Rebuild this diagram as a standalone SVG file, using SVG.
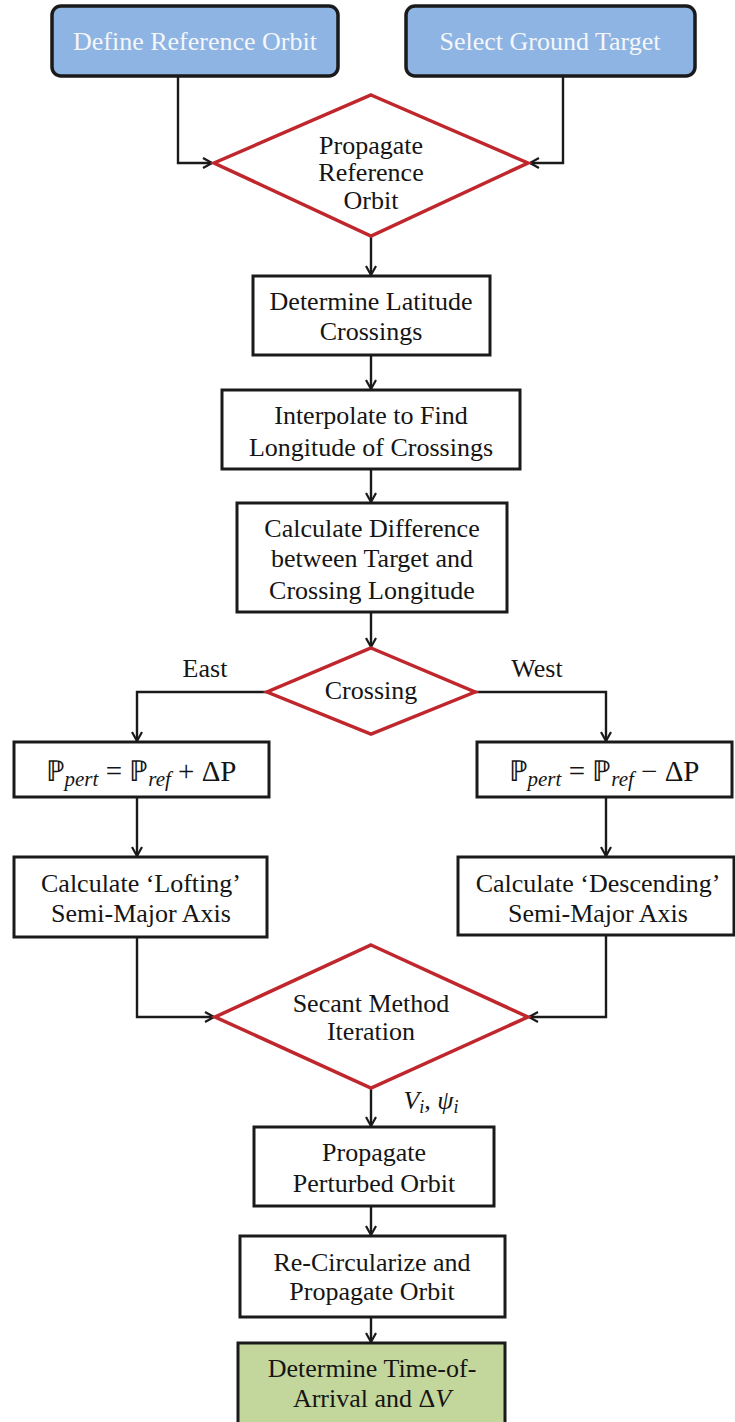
<svg xmlns="http://www.w3.org/2000/svg" width="735" height="1422" viewBox="0 0 735 1422">
  <style>
    .t { font-family: "Liberation Serif", "Times New Roman", serif; font-size: 26px; fill: #151515; text-anchor: middle; }
    .tw { fill: #f4f6fb; }
    .box { fill: #ffffff; stroke: #1a1a1a; stroke-width: 3; }
    .blue { fill: #8db4e2; stroke: #1a1a1a; stroke-width: 3.5; }
    .green { fill: #c3d69b; stroke: #1a1a1a; stroke-width: 3; }
    .dia { fill: #ffffff; stroke: #c0272d; stroke-width: 3.5; stroke-linejoin: miter; }
    .wire { fill: none; stroke: #1a1a1a; stroke-width: 2.4; marker-end: url(#head); }
    .m { font-style: italic; }
    .eq { font-size: 29px; }
  </style>
  <defs>
    <marker id="head" viewBox="0 0 12 12" refX="11" refY="6" markerWidth="12" markerHeight="12" markerUnits="userSpaceOnUse" orient="auto">
      <path d="M2,1 L11,6 L2,11" fill="none" stroke="#1a1a1a" stroke-width="2.2"/>
    </marker>
  </defs>

  <rect width="735" height="1422" fill="#ffffff"/>

  <!-- connectors -->
  <g id="connectors">
    <path class="wire" d="M178,76 V163 H212"/>
    <path class="wire" d="M563,76 V163 H530"/>
    <path class="wire" d="M371,236 V275"/>
    <path class="wire" d="M371,355 V389"/>
    <path class="wire" d="M371,469 V502"/>
    <path class="wire" d="M371,612 V647"/>
    <path class="wire" d="M267,692 H137 V741"/>
    <path class="wire" d="M475,692 H606 V741"/>
    <path class="wire" d="M137,797 V856"/>
    <path class="wire" d="M606,797 V856"/>
    <path class="wire" d="M137,937 V1017 H214"/>
    <path class="wire" d="M606,935 V1017 H529"/>
    <path class="wire" d="M371,1088 V1126"/>
    <path class="wire" d="M371,1206 V1235"/>
    <path class="wire" d="M371,1317 V1342"/>
  </g>

  <!-- inputs -->
  <g id="define-reference-orbit">
    <rect class="blue" x="52" y="6" width="286" height="70" rx="9"/>
    <text class="t tw" x="195" y="50">Define Reference Orbit</text>
  </g>
  <g id="select-ground-target">
    <rect class="blue" x="406" y="6" width="289" height="70" rx="9"/>
    <text class="t tw" x="550" y="50">Select Ground Target</text>
  </g>

  <g id="propagate-reference-orbit">
    <polygon class="dia" points="371,95 528,163 371,236 214,163"/>
    <text class="t" x="371" y="154">Propagate</text>
    <text class="t" x="371" y="181">Reference</text>
    <text class="t" x="371" y="209">Orbit</text>
  </g>

  <g id="determine-latitude-crossings">
    <rect class="box" x="253" y="276" width="237" height="79"/>
    <text class="t" x="371" y="310">Determine Latitude</text>
    <text class="t" x="371" y="340">Crossings</text>
  </g>

  <g id="interpolate-longitude">
    <rect class="box" x="222" y="390" width="298" height="79"/>
    <text class="t" x="371" y="424">Interpolate to Find</text>
    <text class="t" x="371" y="456">Longitude of Crossings</text>
  </g>

  <g id="calculate-difference">
    <rect class="box" x="237" y="503" width="270" height="109"/>
    <text class="t" x="372" y="537">Calculate Difference</text>
    <text class="t" x="372" y="567">between Target and</text>
    <text class="t" x="372" y="599">Crossing Longitude</text>
  </g>

  <g id="crossing">
    <polygon class="dia" points="371,648 475,692 371,734 267,692"/>
    <text class="t" x="371" y="699">Crossing</text>
    <text class="t" x="205" y="677">East</text>
    <text class="t" x="537" y="677">West</text>
  </g>

  <g id="period-east">
    <rect class="box" x="14" y="742" width="255" height="55"/>
    <text class="t eq" x="141" y="781">ℙ<tspan class="m" font-size="21" dy="5">pert</tspan><tspan dy="-5"> = ℙ</tspan><tspan class="m" font-size="21" dy="5">ref</tspan><tspan dy="-5"> + ΔP</tspan></text>
  </g>
  <g id="period-west">
    <rect class="box" x="477" y="742" width="255" height="55"/>
    <text class="t eq" x="604" y="781">ℙ<tspan class="m" font-size="21" dy="5">pert</tspan><tspan dy="-5"> = ℙ</tspan><tspan class="m" font-size="21" dy="5">ref</tspan><tspan dy="-5"> − ΔP</tspan></text>
  </g>

  <g id="lofting-axis">
    <rect class="box" x="14" y="857" width="253" height="80"/>
    <text class="t" x="141" y="892">Calculate ‘Lofting’</text>
    <text class="t" x="141" y="922">Semi-Major Axis</text>
  </g>
  <g id="descending-axis">
    <rect class="box" x="458" y="857" width="276" height="78"/>
    <text class="t" x="598" y="892">Calculate ‘Descending’</text>
    <text class="t" x="598" y="922">Semi-Major Axis</text>
  </g>

  <g id="secant-method">
    <polygon class="dia" points="371,945 528,1017 371,1088 215,1017"/>
    <text class="t" x="371" y="1012">Secant Method</text>
    <text class="t" x="371" y="1040">Iteration</text>
    <text class="t m" x="431" y="1109" fill="#1c2147">V<tspan font-size="18" dy="4">i</tspan><tspan dy="-4">, ψ</tspan><tspan font-size="18" dy="4">i</tspan></text>
  </g>

  <g id="propagate-perturbed-orbit">
    <rect class="box" x="254" y="1127" width="240" height="79"/>
    <text class="t" x="374" y="1161">Propagate</text>
    <text class="t" x="374" y="1192">Perturbed Orbit</text>
  </g>

  <g id="recircularize">
    <rect class="box" x="240" y="1236" width="265" height="81"/>
    <text class="t" x="372" y="1271">Re-Circularize and</text>
    <text class="t" x="372" y="1300">Propagate Orbit</text>
  </g>

  <g id="time-of-arrival">
    <rect class="green" x="238" y="1343" width="267" height="90"/>
    <text class="t" x="372" y="1377">Determine Time-of-</text>
    <text class="t" x="372" y="1407">Arrival and Δ<tspan class="m">V</tspan></text>
  </g>
</svg>
